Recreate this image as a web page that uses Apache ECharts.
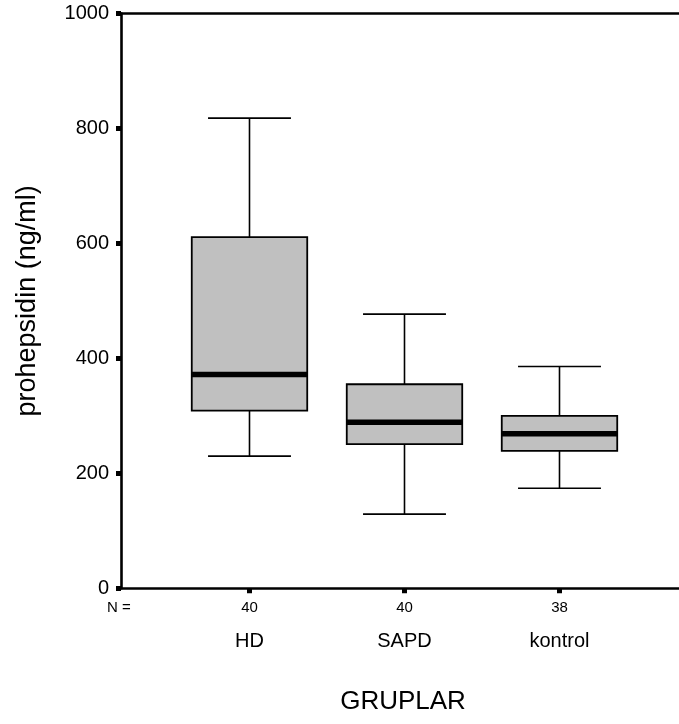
<!DOCTYPE html>
<html>
<head>
<meta charset="utf-8">
<script src="https://cdn.jsdelivr.net/npm/echarts@6/dist/echarts.min.js"></script>
<style>
  html, body { margin: 0; padding: 0; background: #fff; }
  #chart { width: 679px; height: 724px; }
</style>
</head>
<body>
<div id="chart"></div>
<script>
var categories = ['HD', 'SAPD', 'kontrol'];
var counts = [40, 40, 38];
var whiskerLow = [230, 129, 174];
var q1 = [309, 251, 239];
var median = [372, 289, 269];
var q3 = [611, 355, 300];
var whiskerHigh = [818, 477, 386];
var yTicks = [0, 200, 400, 600, 800, 1000];

var font = 'Liberation Sans, Arial, sans-serif';

var boxData = categories.map(function (c, i) {
    return [i + 1, whiskerLow[i], q1[i], median[i], q3[i], whiskerHigh[i]];
});

function renderBox(params, api) {
    var x = api.value(0);
    var unit = api.size([1, 0])[0];
    var boxW = unit * 0.745;
    var capW = unit * 0.535;
    var pLow = api.coord([x, api.value(1)]);
    var pQ1 = api.coord([x, api.value(2)]);
    var pMed = api.coord([x, api.value(3)]);
    var pQ3 = api.coord([x, api.value(4)]);
    var pHigh = api.coord([x, api.value(5)]);
    var cx = pMed[0];
    var line = { stroke: '#000', lineWidth: 1.6 };
    return {
        type: 'group',
        children: [
            { type: 'line', shape: { x1: cx, y1: pHigh[1], x2: cx, y2: pQ3[1] }, style: line },
            { type: 'line', shape: { x1: cx, y1: pQ1[1], x2: cx, y2: pLow[1] }, style: line },
            { type: 'line', shape: { x1: cx - capW / 2, y1: pHigh[1], x2: cx + capW / 2, y2: pHigh[1] }, style: line },
            { type: 'line', shape: { x1: cx - capW / 2, y1: pLow[1], x2: cx + capW / 2, y2: pLow[1] }, style: line },
            { type: 'rect', shape: { x: cx - boxW / 2, y: pQ3[1], width: boxW, height: pQ1[1] - pQ3[1] },
              style: { fill: '#c0c0c0', stroke: '#000', lineWidth: 1.8 } },
            { type: 'line', shape: { x1: cx - boxW / 2, y1: pMed[1], x2: cx + boxW / 2, y2: pMed[1] },
              style: { stroke: '#000', lineWidth: 5.5 } }
        ]
    };
}

var chart = echarts.init(document.getElementById('chart'));
chart.setOption({
    animation: false,
    backgroundColor: '#fff',
    grid: { left: 121, right: 0, top: 13.5, bottom: 135.7, containLabel: false },
    xAxis: [{
        type: 'value',
        min: 0.171,
        max: 3.771,
        position: 'bottom',
        splitLine: { show: false },
        axisLine: { show: true, lineStyle: { color: '#000', width: 2.6 } },
        axisTick: { show: true, customValues: [1, 2, 3], length: 5, lineStyle: { color: '#000', width: 5 } },
        axisLabel: {
            customValues: [1, 2, 3],
            margin: 10,
            fontFamily: font,
            color: '#000',
            formatter: function (v) {
                var i = Math.round(v) - 1;
                return '{n|' + counts[i] + '}\n{c|' + categories[i] + '}';
            },
            rich: {
                n: { fontSize: 15, lineHeight: 20, fontFamily: font, color: '#000' },
                c: { fontSize: 20, lineHeight: 46, fontFamily: font, color: '#000' }
            }
        },
        name: 'GRUPLAR',
        nameLocation: 'middle',
        nameGap: 101,
        nameTextStyle: { fontSize: 26, fontFamily: font, color: '#000', padding: [0, 0, 0, 6] }
    }, {
        type: 'value',
        min: 0.171,
        max: 3.771,
        position: 'top',
        splitLine: { show: false },
        axisLine: { show: true, lineStyle: { color: '#000', width: 2.6 } },
        axisTick: { show: false },
        axisLabel: { show: false }
    }],
    yAxis: {
        type: 'value',
        min: 0,
        max: 1000,
        interval: 200,
        splitLine: { show: false },
        axisLine: { show: true, lineStyle: { color: '#000', width: 2.6 } },
        axisTick: { show: true, length: 5, lineStyle: { color: '#000', width: 5 } },
        axisLabel: {
            customValues: yTicks,
            margin: 12,
            fontSize: 20,
            fontFamily: font,
            color: '#000',
            formatter: function (v) { return String(v); }
        },
        name: 'prohepsidin (ng/ml)',
        nameLocation: 'middle',
        nameGap: 80,
        nameTextStyle: { fontSize: 27, fontFamily: font, color: '#000' }
    },
    graphic: [{
        type: 'text',
        left: 107,
        top: 600,
        style: { text: 'N =', fontSize: 15, fontFamily: font, fill: '#000' }
    }],
    series: [{
        type: 'custom',
        xAxisIndex: 0,
        renderItem: renderBox,
        encode: { x: 0, y: [1, 2, 3, 4, 5] },
        data: boxData
    }]
});
</script>
</body>
</html>
